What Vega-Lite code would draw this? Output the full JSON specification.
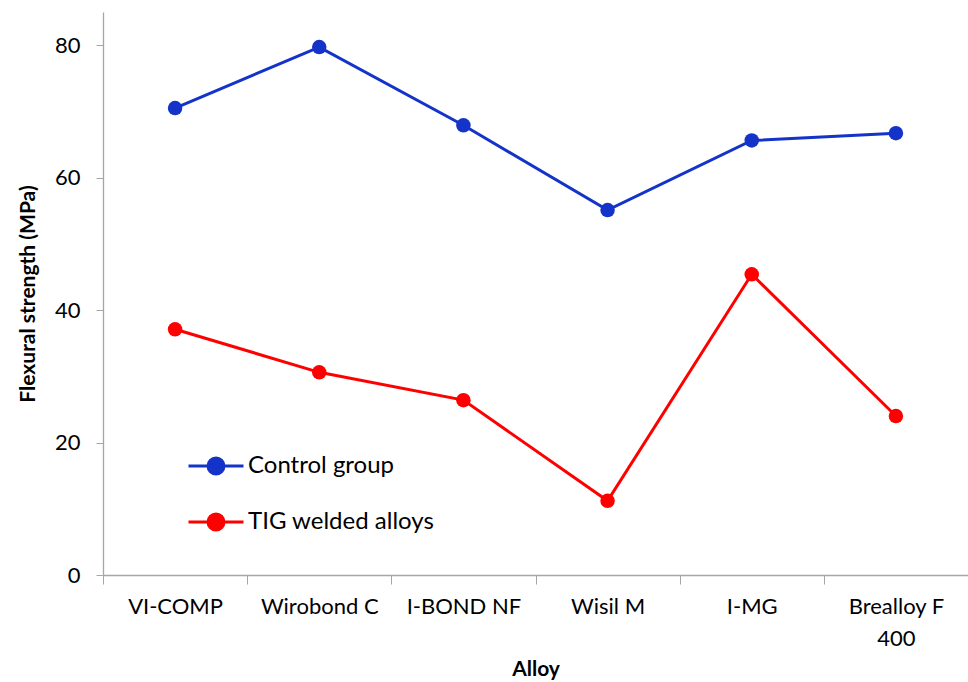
{
  "$schema": "https://vega.github.io/schema/vega-lite/v6.json",
  "autosize": {"type": "none"},
  "padding": {"left": 103, "top": 12, "right": 0, "bottom": 107},
  "width": 865,
  "height": 563,
  "background": "white",
  "config": {"view": {"stroke": null}, "font": "Lato"},
  "data": {
    "values": [
      {"alloy": "VI-COMP", "group": "Control group", "value": 70.5},
      {"alloy": "Wirobond C", "group": "Control group", "value": 79.7},
      {"alloy": "I-BOND NF", "group": "Control group", "value": 67.9},
      {"alloy": "Wisil M", "group": "Control group", "value": 55.1},
      {"alloy": "I-MG", "group": "Control group", "value": 65.6},
      {"alloy": "Brealloy F 400", "group": "Control group", "value": 66.7},
      {"alloy": "VI-COMP", "group": "TIG welded alloys", "value": 37.1},
      {"alloy": "Wirobond C", "group": "TIG welded alloys", "value": 30.6},
      {"alloy": "I-BOND NF", "group": "TIG welded alloys", "value": 26.4},
      {"alloy": "Wisil M", "group": "TIG welded alloys", "value": 11.2},
      {"alloy": "I-MG", "group": "TIG welded alloys", "value": 45.4},
      {"alloy": "Brealloy F 400", "group": "TIG welded alloys", "value": 24.0}
    ]
  },
  "mark": {"type": "line", "strokeWidth": 3, "point": {"size": 210, "filled": true, "opacity": 1}},
  "encoding": {
    "x": {
      "field": "alloy", "type": "nominal", "sort": null,
      "scale": {"paddingInner": 0, "paddingOuter": 0},
      "axis": {
        "title": "Alloy", "titleFontSize": 21, "titleFontWeight": "bold", "titleColor": "black",
        "titlePadding": 9,
        "labelAngle": 0, "labelFontSize": 22, "labelColor": "black", "labelPadding": 12,
        "labelLineHeight": 32,
        "labelExpr": "datum.label == 'Brealloy F 400' ? ['Brealloy F', '400'] : datum.label",
        "tickOffset": -72.08, "labelOffset": 72.08,
        "tickSize": 9, "tickColor": "#a6a6a6", "domainColor": "#a6a6a6", "domainWidth": 1.3, "grid": false
      }
    },
    "y": {
      "field": "value", "type": "quantitative",
      "scale": {"domain": [0, 85], "nice": false},
      "axis": {
        "title": "Flexural strength (MPa)", "titleFontSize": 21, "titleFontWeight": "bold", "titleColor": "black",
        "titlePadding": 16,
        "values": [0, 20, 40, 60, 80],
        "labelFontSize": 22, "labelColor": "black", "labelPadding": 16,
        "tickSize": 7, "tickColor": "#a6a6a6", "domainColor": "#a6a6a6", "domainWidth": 1.3, "grid": false
      }
    },
    "color": {
      "field": "group", "type": "nominal",
      "scale": {"domain": ["Control group", "TIG welded alloys"], "range": ["#1433c8", "#ff0000"]},
      "legend": {
        "title": null, "orient": "none", "legendX": 84, "legendY": 425,
        "symbolType": "M-1,0L1,0M-0.29,0A0.29,0.29,0,1,1,0.29,0A0.29,0.29,0,1,1,-0.29,0Z",
        "symbolSize": 3025, "symbolStrokeWidth": 3, "symbolOpacity": 1,
        "labelFontSize": 24, "labelColor": "black", "labelOffset": 3, "rowPadding": 13,
        "labelLimit": 400
      }
    }
  }
}
